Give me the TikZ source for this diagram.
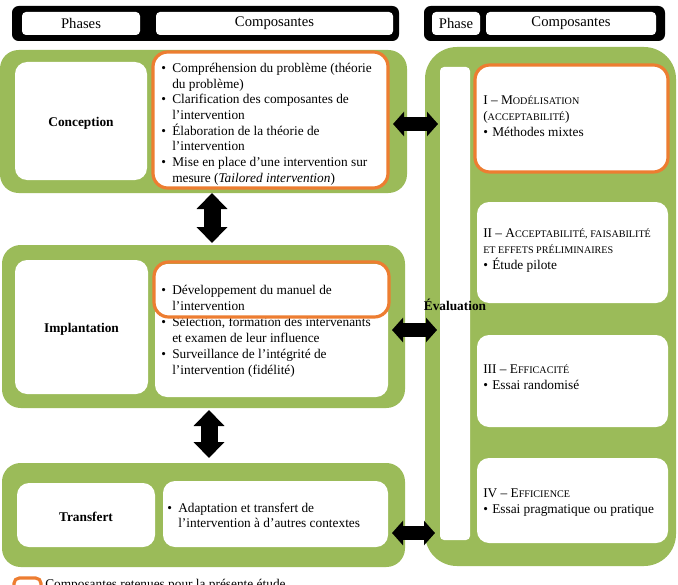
\documentclass[tikz,border=0pt]{standalone}
\usepackage{fontspec}
\setmainfont{Liberation Serif}
\usetikzlibrary{fit,arrows.meta,calc}
\definecolor{grn}{HTML}{9BBB59}
\definecolor{org}{HTML}{ED7D31}
\newcommand{\bul}{\makebox[8.25pt][l]{\textbullet}}
\newcommand{\ind}{\hspace*{8.25pt}}
\newcommand{\bulr}{\makebox[6.75pt][l]{\textbullet}}
\newcommand{\sm}[1]{{\fontsize{7.6}{9}\selectfont #1}}
\newcommand{\fl}{\rule{0pt}{10pt}}
\begin{document}
\begin{tikzpicture}[x=0.75pt,y=-0.75pt,
  greenbox/.style={fill=grn, draw=none, rounded corners=14pt, inner sep=0pt},
  bigbox/.style={fill=grn, draw=none, rounded corners=24pt, inner sep=0pt},
  whitebox/.style={fill=white, draw=none, rounded corners=9pt, inner sep=0pt},
  orangebox/.style={draw=org, line width=2.4pt, rounded corners=11pt, inner sep=0pt},
  headblack/.style={fill=black, rounded corners=5pt, inner sep=0pt},
  headwhite/.style={fill=white, rounded corners=3pt, inner sep=0pt},
  headtxt/.style={inner sep=0pt, font=\fontsize{11}{13}\selectfont},
  lbl/.style={inner sep=0pt, yshift=-1.5pt, font=\fontsize{10}{12}\selectfont\bfseries},
  txt/.style={anchor=north west, inner sep=0pt, align=left, font=\fontsize{10}{11.8}\selectfont},
  txtr/.style={anchor=north west, inner sep=0pt, align=left, font=\fontsize{10}{12.2}\selectfont},
  varrow/.style={line width=12.75pt, {Triangle[width=22.5pt,length=12pt]}-{Triangle[width=22.5pt,length=12pt]}},
  harrow/.style={line width=11pt, {Triangle[width=18pt,length=8.25pt]}-{Triangle[width=18pt,length=8.25pt]}}
]
\clip (0,0) rectangle (678,585);
\fill[white] (0,0) rectangle (678,585);

% headers
\node[headblack, fit={(12,6) (399,41)}] (hL) {};
\node[headwhite, fit={(22,12) (140,35)}] (hPhases) {};
\node[headtxt] (hPhasesT) at (hPhases.center) {Phases};
\node[headwhite, fit={(156,12) (393,35)}] (hComp) {};
\node[headtxt] (hCompT) at (hComp.center) {Composantes};
\node[headblack, fit={(424,6) (665,41)}] (hR) {};
\node[headwhite, fit={(432,12) (480,35)}] (hPhase) {};
\node[headtxt] (hPhaseT) at (hPhase.center) {Phase};
\node[headwhite, fit={(486,12) (656,35)}] (hComp2) {};
\node[headtxt] (hComp2T) at (hComp2.center) {Composantes};

% Conception
\node[greenbox, fit={(0,50) (407,193)}] (concG) {};
\node[whitebox, fit={(15,62) (147,180)}] (concL) {};
\node[lbl] (concLT) at (concL.center) {Conception};
\node[whitebox, orangebox, fit={(153,52) (388,188)}] (concO) {};
\node[txt] (concT) at (161,58.7) {\fl\bul Compréhension du problème (théorie\\
\ind du problème)\\
\bul Clarification des composantes de\\
\ind l’intervention\\
\bul Élaboration de la théorie de\\
\ind l’intervention\\
\bul Mise en place d’une intervention sur\\
\ind mesure (\textit{Tailored intervention})};

% Implantation
\node[greenbox, fit={(2,245) (405,408)}] (implG) {};
\node[whitebox, fit={(15,260) (148,394)}] (implL) {};
\node[lbl] (implLT) at (implL.center) {Implantation};
\node[whitebox, fit={(155,264) (388,397)}] (implW) {};
\node[txt, font=\fontsize{10}{12}\selectfont] (implT) at (161,280.7) {\fl\bul Développement du manuel de\\
\ind l’intervention\\
\bul Sélection, formation des intervenants\\
\ind et examen de leur influence\\
\bul Surveillance de l’intégrité de\\
\ind l’intervention (fidélité)};
\node[orangebox, fit={(154,262) (389,317)}] (implO) {};

% Transfert
\node[greenbox, fit={(2,463) (405,567)}] (trG) {};
\node[whitebox, fit={(17,483) (155,547)}] (trL) {};
\node[lbl] (trLT) at (trL.center) {Transfert};
\node[whitebox, fit={(163,481) (388,547)}] (trW) {};
\node[txt, font=\fontsize{10}{11.3}\selectfont] (trT) at (167,498.7) {\fl\bul Adaptation et transfert de\\
\ind l’intervention à d’autres contextes};

% Evaluation column
\node[bigbox, fit={(425,47) (676,566)}] (evG) {};
\node[whitebox, rounded corners=3pt, fit={(440,67) (470,540)}] (evS) {};
\node[lbl, yshift=1.5pt] (evT) at (455,305) {Évaluation};

\node[whitebox, orangebox, fit={(475,65) (668,172)}] (b1) {};
\node[whitebox, fit={(477,202) (668,303)}] (b2) {};
\node[whitebox, fit={(477,335) (668,427)}] (b3) {};
\node[whitebox, fit={(477,458) (668,543)}] (b4) {};

\node[txtr] (b1T) at (483,90.7) {\fl I – M\sm{ODÉLISATION}\\
(\sm{ACCEPTABILITÉ})\\
\bulr Méthodes mixtes};
\node[txtr] (b2T) at (483,223.7) {\fl II – A\sm{CCEPTABILITÉ, FAISABILITÉ}\\
\sm{ET EFFETS PRÉLIMINAIRES}\\
\bulr Étude pilote};
\node[txtr] (b3T) at (483,359.7) {\fl III – E\sm{FFICACITÉ}\\
\bulr Essai randomisé};
\node[txtr] (b4T) at (483,483.7) {\fl IV – E\sm{FFICIENCE}\\
\bulr Essai pragmatique ou pratique};

% arrows
\coordinate (v1a) at (212,193);
\coordinate (v1b) at (212,243);
\coordinate (v2a) at (209,410);
\coordinate (v2b) at (209,458);
\draw[varrow] (v1a) -- (v1b);
\draw[varrow] (v2a) -- (v2b);
\coordinate (h1a) at (393,124);
\coordinate (h1b) at (438,124);
\coordinate (h2a) at (392,330);
\coordinate (h2b) at (437,330);
\coordinate (h3a) at (392,533);
\coordinate (h3b) at (435,533);
\draw[harrow] (h1a) -- (h1b);
\draw[harrow] (h2a) -- (h2b);
\draw[harrow] (h3a) -- (h3b);

% legend
\node[orangebox, fill=white, rounded corners=4pt, fit={(14,578) (41,602)}] (leg) {};
\node[txt] (legT) at (45,578.5) {Composantes retenues pour la présente étude};
\end{tikzpicture}
\end{document}
